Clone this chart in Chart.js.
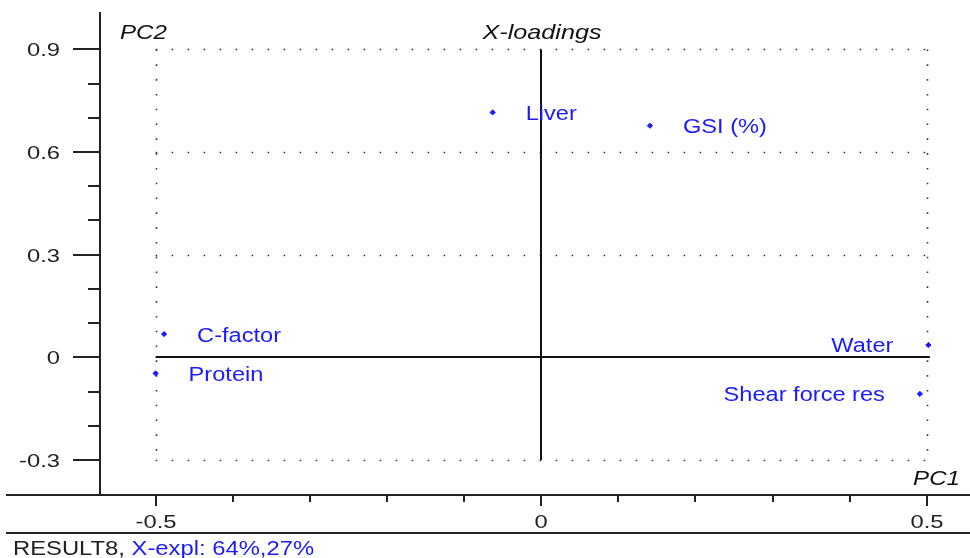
<!DOCTYPE html>
<html>
<head>
<meta charset="utf-8">
<title>X-loadings</title>
<script src="https://cdn.jsdelivr.net/npm/chart.js@4.4.0/dist/chart.umd.min.js"></script>
<style>
    body { margin: 0; background: #ffffff; }
    #wrap { width: 970px; height: 558px; }
</style>
</head>
<body>
<div id="wrap"><canvas id="loadingsChart" width="970" height="558"></canvas></div>
<script>
// Loadings of each variable on PC1 / PC2
const variables = ['Liver', 'GSI (%)', 'C-factor', 'Protein', 'Water', 'Shear force res'];
const pc1 = [-0.063, 0.141, -0.489, -0.500, 0.502, 0.491];
const pc2 = [0.716, 0.677, 0.068, -0.047, 0.036, -0.107];

// Tick labels and tick marks
const xTickLabels = [-0.5, 0, 0.5];
const yTickLabels = [-0.3, 0, 0.3, 0.6, 0.9];
const xMinorTicks = [-0.4, -0.3, -0.2, -0.1, 0.1, 0.2, 0.3, 0.4];
const yMinorTicks = [-0.2, -0.1, 0.1, 0.2, 0.4, 0.5, 0.7, 0.8];
const dottedRows = [-0.3, 0.3, 0.6, 0.9];
const dottedCols = [-0.5, 0.5];

const BLUE = '#1a1aff';
const INK = '#222222';

// texto estirado en horizontal, como la fuente de mapa de bits del original
function stretchText(ctx, text, x, y, align, font, color, sx) {
    ctx.save();
    ctx.font = font;
    ctx.fillStyle = color;
    ctx.textAlign = 'left';
    ctx.textBaseline = 'alphabetic';
    const w = ctx.measureText(text).width * sx;
    let left = x;
    if (align === 'right') left = x - w;
    if (align === 'center') left = x - w / 2;
    ctx.translate(left, y);
    ctx.scale(sx, 1);
    ctx.fillText(text, 0, 0);
    ctx.restore();
    return w;
}

const loadingsPlugin = {
    id: 'loadingsFrame',
    beforeDatasetsDraw(chart) {
        const ctx = chart.ctx;
        const xs = chart.scales.x;
        const ys = chart.scales.y;
        const area = chart.chartArea;
        const fullRight = chart.width;
        const xl = xs.getPixelForValue(-0.5), xr = xs.getPixelForValue(0.5);
        const yt = ys.getPixelForValue(0.9), yb = ys.getPixelForValue(-0.3);

        ctx.save();
        // dotted grid
        ctx.strokeStyle = '#333333';
        ctx.lineWidth = 1.6;
        ctx.setLineDash([1.6, 14.4]);
        dottedRows.forEach(v => {
            const y = Math.round(ys.getPixelForValue(v)) + 0.5;
            ctx.beginPath();
            ctx.moveTo(xl, y);
            ctx.lineTo(xr + 2, y);
            ctx.stroke();
        });
        ctx.setLineDash([1.6, 13.2]);
        dottedCols.forEach(v => {
            const x = Math.round(xs.getPixelForValue(v)) + 0.5;
            ctx.beginPath();
            ctx.moveTo(x, yt);
            ctx.lineTo(x, yb + 2);
            ctx.stroke();
        });
        ctx.setLineDash([]);

        // solid zero lines
        ctx.fillStyle = '#111111';
        const x0 = Math.round(xs.getPixelForValue(0));
        const y0 = Math.round(ys.getPixelForValue(0));
        ctx.fillRect(x0 - 1, yt, 2, yb - yt);
        ctx.fillRect(xl, y0 - 1, xr - xl + 3, 2);

        // axes frame
        ctx.fillStyle = INK;
        ctx.fillRect(area.left - 1, area.top, 2, area.bottom - area.top + 1);
        ctx.fillRect(6, area.bottom - 1, fullRight - 6, 2);
        ctx.fillRect(6, 532, fullRight - 6, 2);

        // y ticks
        yTickLabels.forEach(v => {
            const y = Math.round(ys.getPixelForValue(v));
            ctx.fillRect(area.left - 27, y - 1, 27, 2);
            stretchText(ctx, String(v), area.left - 40, y + 7, 'right', '19px "Liberation Sans"', INK, 1.25);
        });
        yMinorTicks.forEach(v => {
            const y = Math.round(ys.getPixelForValue(v));
            ctx.fillRect(area.left - 12, y - 1, 12, 2);
        });

        // x ticks
        xTickLabels.forEach(v => {
            const x = Math.round(xs.getPixelForValue(v));
            ctx.fillRect(x - 1, area.bottom, 2, 11);
            stretchText(ctx, String(v), x, area.bottom + 33, 'center', '19px "Liberation Sans"', INK, 1.25);
        });
        xMinorTicks.forEach(v => {
            const x = Math.round(xs.getPixelForValue(v));
            ctx.fillRect(x - 1, area.bottom, 2, 7);
        });

        // axis names and title
        const italic = 'italic 21px "Liberation Sans"';
        stretchText(ctx, 'PC2', 120, 39, 'left', italic, '#111111', 1.15);
        stretchText(ctx, 'X-loadings', x0 + 1, 39, 'center', italic, '#111111', 1.2);
        stretchText(ctx, 'PC1', 960, 485, 'right', italic, '#111111', 1.15);

        // footer
        const w = stretchText(ctx, 'RESULT8, ', 13, 555, 'left', '19.5px "Liberation Sans"', INK, 1.22);
        stretchText(ctx, 'X-expl: 64%,27%', 13 + w, 555, 'left', '19.5px "Liberation Sans"', BLUE, 1.22);
        ctx.restore();
    },
    afterDatasetsDraw(chart) {
        const ctx = chart.ctx;
        const xs = chart.scales.x;
        const ys = chart.scales.y;
        variables.forEach((name, i) => {
            const px = xs.getPixelForValue(pc1[i]);
            const py = ys.getPixelForValue(pc2[i]);
            // etiquetas a la izquierda para los puntos del borde derecho
            if (pc1[i] > 0.3) {
                stretchText(ctx, name, px - 35, py + 7.5, 'right', '20px "Liberation Sans"', BLUE, 1.18);
            } else {
                stretchText(ctx, name, px + 33, py + 7.5, 'left', '20px "Liberation Sans"', BLUE, 1.18);
            }
        });
    }
};

const ctx = document.getElementById('loadingsChart').getContext('2d');
const loadingsChart = new Chart(ctx, {
    type: 'scatter',
    data: {
        datasets: [{
            label: 'X-loadings',
            data: variables.map((name, i) => ({ x: pc1[i], y: pc2[i] })),
            pointStyle: 'rectRot',
            pointRadius: 2.6,
            pointHoverRadius: 2.6,
            backgroundColor: BLUE,
            borderColor: BLUE,
            borderWidth: 1
        }]
    },
    options: {
        responsive: false,
        animation: false,
        devicePixelRatio: 1,
        layout: {
            padding: { left: 100, right: 0, top: 12, bottom: 63 }
        },
        scales: {
            x: { type: 'linear', display: false, min: -0.5721, max: 0.5513 },
            y: { type: 'linear', display: false, min: -0.4026, max: 1.0096 }
        },
        plugins: {
            legend: { display: false },
            tooltip: { enabled: false }
        }
    },
    plugins: [loadingsPlugin]
});
</script>
</body>
</html>
